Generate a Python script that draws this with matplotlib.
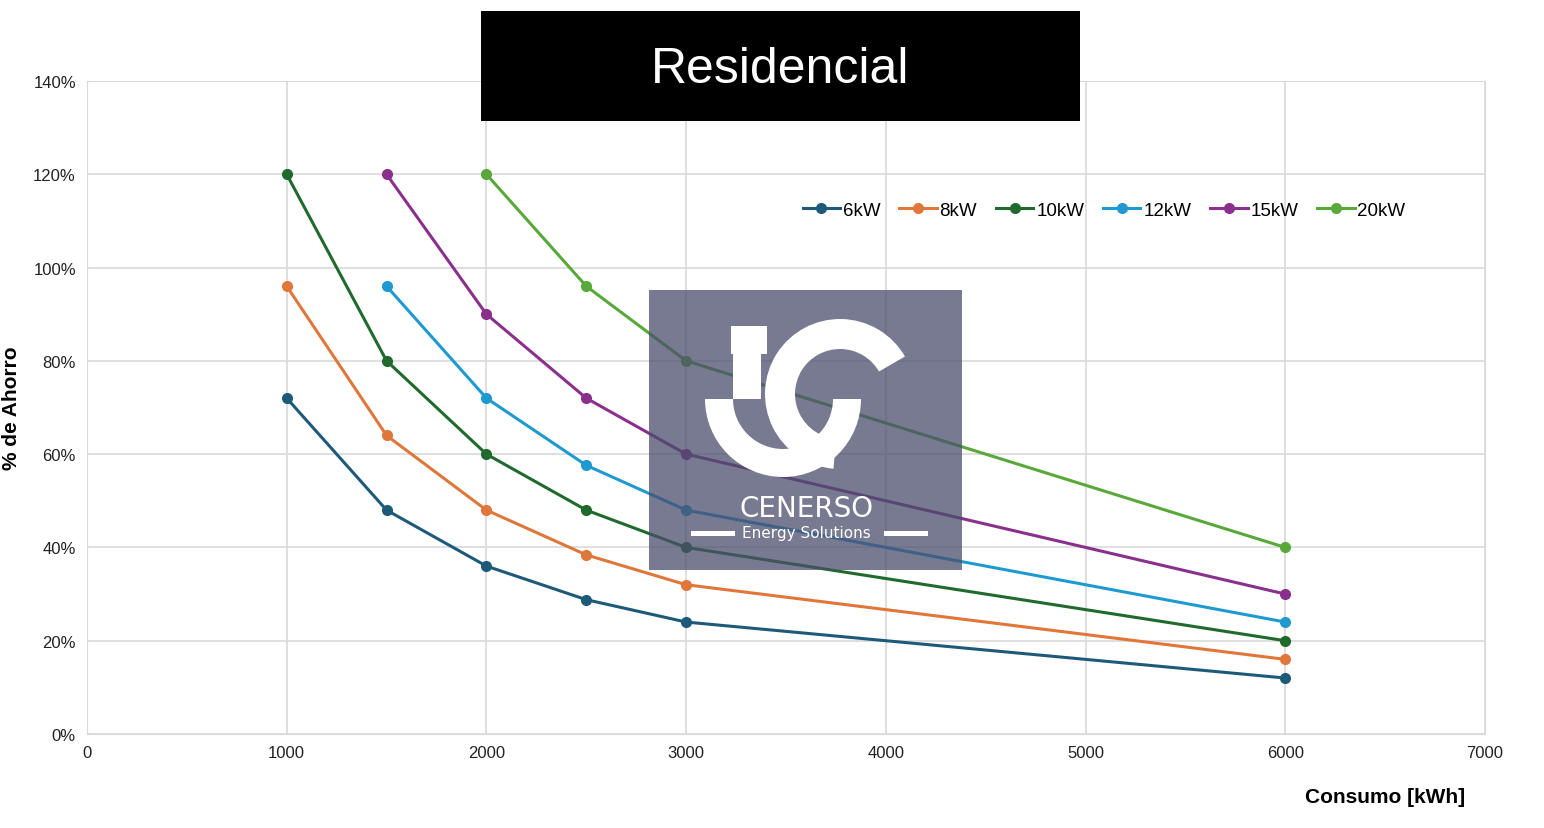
import matplotlib
matplotlib.use("Agg")
import matplotlib.pyplot as plt
from matplotlib.patches import Rectangle, Wedge

plt.rcParams["font.family"] = "Liberation Sans"

consumo_6 = [1000, 1500, 2000, 2500, 3000, 6000]
ahorro_6 = [0.72, 0.48, 0.36, 0.288, 0.24, 0.12]
consumo_8 = [1000, 1500, 2000, 2500, 3000, 6000]
ahorro_8 = [0.96, 0.64, 0.48, 0.384, 0.32, 0.16]
consumo_10 = [1000, 1500, 2000, 2500, 3000, 6000]
ahorro_10 = [1.20, 0.80, 0.60, 0.48, 0.40, 0.20]
consumo_12 = [1500, 2000, 2500, 3000, 6000]
ahorro_12 = [0.96, 0.72, 0.576, 0.48, 0.24]
consumo_15 = [1500, 2000, 2500, 3000, 6000]
ahorro_15 = [1.20, 0.90, 0.72, 0.60, 0.30]
consumo_20 = [2000, 2500, 3000, 6000]
ahorro_20 = [1.20, 0.96, 0.80, 0.40]
labels = ["6kW", "8kW", "10kW", "12kW", "15kW", "20kW"]
colors = ["#1d5a7a", "#e0773a", "#1f6a2c", "#1e9ad0", "#8b2f8c", "#58a83a"]

fig = plt.figure(figsize=(15.44, 8.29), dpi=100)
W, H = 1544, 829
ax = fig.add_axes([87/W, 1-735/H, (1485-87)/W, (735-82)/H])
series = [(consumo_6, ahorro_6), (consumo_8, ahorro_8), (consumo_10, ahorro_10),
          (consumo_12, ahorro_12), (consumo_15, ahorro_15), (consumo_20, ahorro_20)]
for (x, y), lab, c in zip(series, labels, colors):
    ax.plot(x, y, color=c, lw=2.2, marker="o", ms=7, label=lab, zorder=3)

ax.set_xlim(0, 7000)
ax.set_ylim(0, 1.4)
ax.set_xticks(range(0, 7001, 1000))
ax.set_yticks([i/10 for i in range(0, 15, 2)])
ax.set_yticklabels([f"{i*10}%" for i in range(0, 15, 2)])
ax.grid(True, color="#d9d9d9", lw=1.2)
for s in ax.spines.values():
    s.set_color("#d9d9d9")
ax.tick_params(length=0, labelsize=12, colors="#222222", pad=8)
ax.set_ylabel("% de Ahorro", fontsize=15, fontweight="bold")
ax.yaxis.set_label_coords(-0.047, 0.5)
fig.text(1465/W, 1-798/H, "Consumo [kWh]", ha="right", va="center", fontsize=15, fontweight="bold")

ax.legend(loc="center", bbox_to_anchor=((1104-87)/(1485-87), (735-211)/(735-82)),
          ncol=6, frameon=False, fontsize=13.5, handlelength=2.0, handletextpad=0.15, columnspacing=1.0)

# Title box
fig.patches.append(Rectangle((481/W, 1-122/H), (1080-481)/W, 110/H, transform=fig.transFigure,
                             facecolor="black", zorder=5))
fig.text(780/W, 1-70/H, "Residencial", ha="center", va="center", color="white", fontsize=36, zorder=6)

# Watermark in its own pixel-coordinate axes
wm = fig.add_axes([649/W, 1-571/H, (962-649)/W, 280/H], zorder=10)
wm.set_xlim(649, 962)
wm.set_ylim(571, 291)
wm.axis("off")
wm.add_patch(Rectangle((649, 291), 313, 280, facecolor="#4a4e6c", alpha=0.75))
# "J" shape
wm.add_patch(Rectangle((731, 327), 36, 28, facecolor="white"))
wm.add_patch(Wedge((783, 395), 95, 0, 180, width=28, facecolor="white", theta1=None) if False else
             Wedge((783, 400), 78, 0, 180, width=28, facecolor="white"))
wm.add_patch(Rectangle((733, 327), 28, 73, facecolor="white"))
# "C" shape
wm.add_patch(Wedge((840, 395), 75, 95, 330, width=30, facecolor="white"))
wm.text(806, 509, "CENERSO", ha="center", va="center", color="white", fontsize=20, fontfamily="DejaVu Sans")
wm.text(806, 534, "Energy Solutions", ha="center", va="center", color="white", fontsize=11, fontfamily="DejaVu Sans")
wm.add_patch(Rectangle((691, 532), 44, 5, facecolor="white"))
wm.add_patch(Rectangle((884, 532), 44, 5, facecolor="white"))

fig.savefig("out.png", dpi=100)
